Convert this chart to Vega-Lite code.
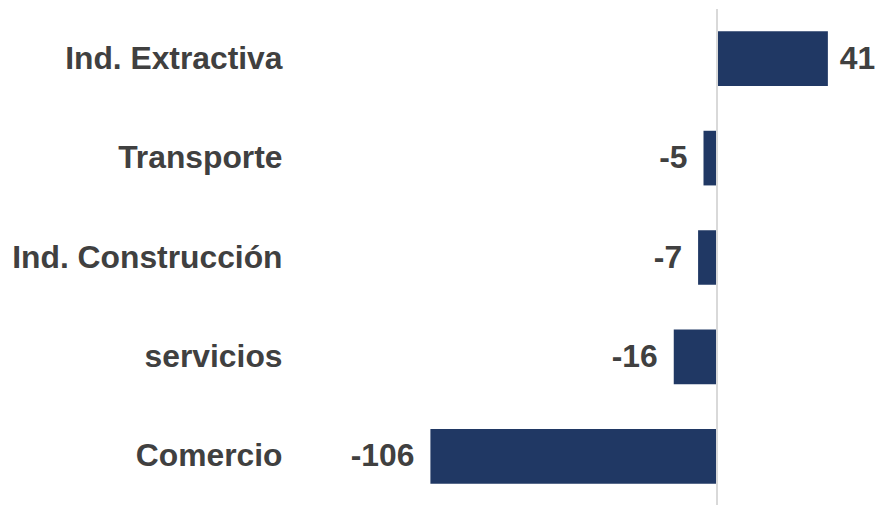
{
  "$schema": "https://vega.github.io/schema/vega-lite/v6.json",
  "width": 577,
  "height": 497,
  "autosize": {"type": "none"},
  "padding": {"left": 299, "top": 9, "right": 1, "bottom": 0},
  "background": "white",
  "config": {"view": {"stroke": null}, "font": "Liberation Sans"},
  "data": {"values": [
    {"sector": "Ind. Extractiva", "value": 41},
    {"sector": "Transporte", "value": -5},
    {"sector": "Ind. Construcción", "value": -7},
    {"sector": "servicios", "value": -16},
    {"sector": "Comercio", "value": -106}
  ]},
  "encoding": {
    "y": {
      "field": "sector", "type": "nominal", "sort": null,
      "scale": {"paddingInner": 0.45, "paddingOuter": 0.225},
      "axis": {"title": null, "domain": false, "ticks": false, "labelFontSize": 31.8, "labelFontWeight": "bold", "labelColor": "#404040", "labelFont": "Liberation Sans", "labelPadding": 17, "labelLimit": 500}
    }
  },
  "layer": [
    {
      "mark": {"type": "bar", "color": "#203864"},
      "encoding": {
        "x": {"field": "value", "type": "quantitative", "scale": {"domain": [-154.6, 58.8], "nice": false, "zero": false}, "axis": null}
      }
    },
    {
      "mark": {"type": "rule", "color": "#d9d9d9", "strokeWidth": 1.5},
      "encoding": {"x": {"datum": 0, "type": "quantitative"}, "y": null}
    },
    {
      "transform": [{"filter": "datum.value >= 0"}],
      "mark": {"type": "text", "align": "left", "baseline": "middle", "dx": 12, "fontSize": 31.8, "fontWeight": "bold", "color": "#404040", "font": "Liberation Sans"},
      "encoding": {
        "x": {"field": "value", "type": "quantitative"},
        "text": {"field": "value", "type": "nominal"}
      }
    },
    {
      "transform": [{"filter": "datum.value < 0"}],
      "mark": {"type": "text", "align": "right", "baseline": "middle", "dx": -16, "fontSize": 31.8, "fontWeight": "bold", "color": "#404040", "font": "Liberation Sans"},
      "encoding": {
        "x": {"field": "value", "type": "quantitative"},
        "text": {"field": "value", "type": "nominal"}
      }
    }
  ]
}
